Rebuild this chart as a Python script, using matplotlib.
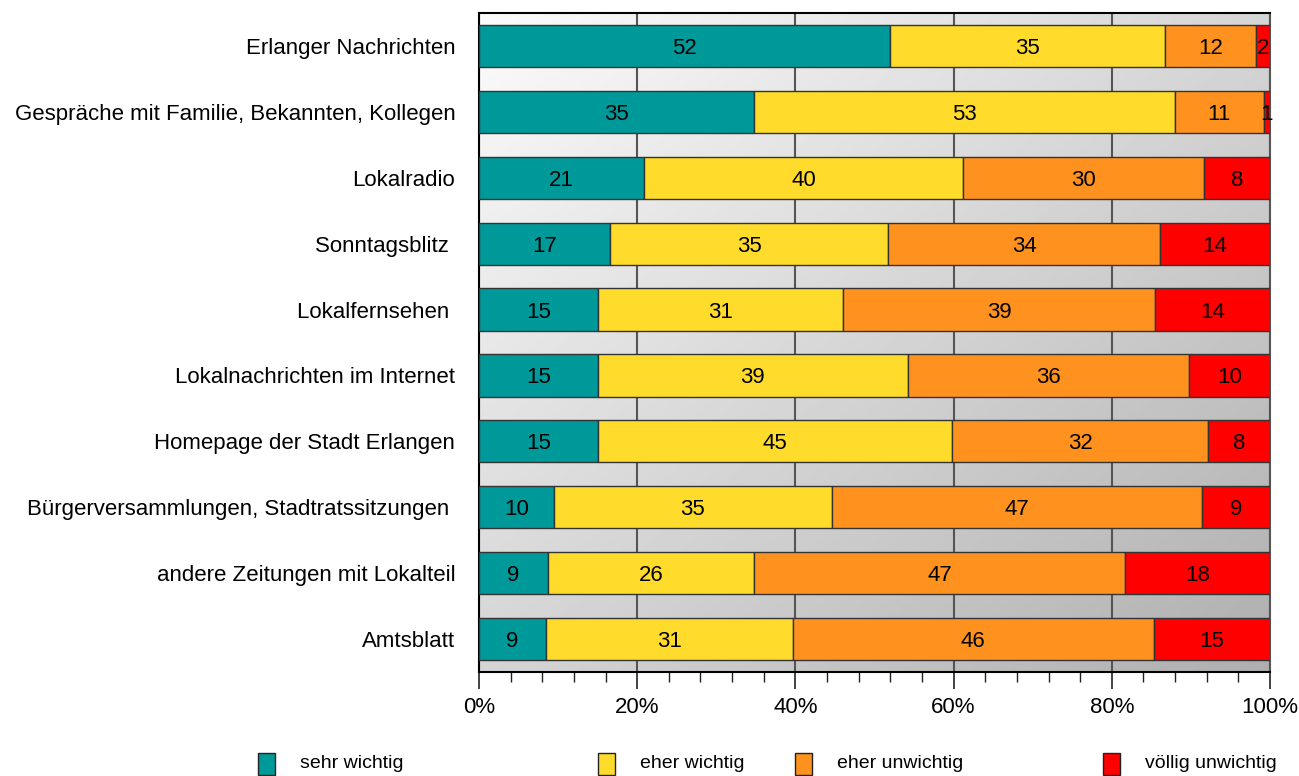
import matplotlib.pyplot as plt
import numpy as np
from matplotlib.patches import Rectangle
from matplotlib.ticker import MultipleLocator, PercentFormatter

plt.rcParams['font.family'] = ['Liberation Sans', 'DejaVu Sans']

sources = ["Erlanger Nachrichten",
           "Gespräche mit Familie, Bekannten, Kollegen",
           "Lokalradio",
           "Sonntagsblitz ",
           "Lokalfernsehen ",
           "Lokalnachrichten im Internet",
           "Homepage der Stadt Erlangen",
           "Bürgerversammlungen, Stadtratssitzungen ",
           "andere Zeitungen mit Lokalteil",
           "Amtsblatt"]

categories = ["sehr wichtig", "eher wichtig", "eher unwichtig", "völlig unwichtig"]
colors = ["#009999", "#ffdb2b", "#ff921e", "#ff0000"]

# bar shares (%)
sehr_wichtig = [52.0, 34.8, 20.9, 16.6, 15.0, 15.0, 15.0, 9.5, 8.7, 8.5]
eher_wichtig = [34.7, 53.2, 40.3, 35.1, 31.0, 39.2, 44.8, 35.1, 26.1, 31.2]
eher_unwichtig = [11.5, 11.2, 30.5, 34.4, 39.5, 35.6, 32.4, 46.8, 46.9, 45.6]
voellig_unwichtig = [1.8, 0.8, 8.3, 13.9, 14.5, 10.2, 7.8, 8.6, 18.3, 14.7]

# printed labels
lbl_sehr = [52, 35, 21, 17, 15, 15, 15, 10, 9, 9]
lbl_eher = [35, 53, 40, 35, 31, 39, 45, 35, 26, 31]
lbl_unw = [12, 11, 30, 34, 39, 36, 32, 47, 47, 46]
lbl_voellig = [2, 1, 8, 14, 14, 10, 8, 9, 18, 15]

series = [sehr_wichtig, eher_wichtig, eher_unwichtig, voellig_unwichtig]
labels = [lbl_sehr, lbl_eher, lbl_unw, lbl_voellig]

fig = plt.figure(figsize=(12.99, 7.76), dpi=100)
ax = fig.add_axes([0.3687, 0.134, 0.609, 0.8492])

# diagonal gray gradient background
gx, gy = np.meshgrid(np.linspace(0, 1, 300), np.linspace(0, 1, 300))
grad = 0.985 - 0.30 * (gx + gy) / 2
ax.imshow(grad, extent=(0, 100, 9.5, -0.5), cmap='gray', vmin=0, vmax=1,
          aspect='auto', zorder=0, interpolation='bilinear')

y = np.arange(len(sources))
left = np.zeros(len(sources))
for vals, lab, col in zip(series, labels, colors):
    vals = np.array(vals)
    ax.barh(y, vals, left=left, height=0.64, color=col, edgecolor='#333333',
            linewidth=1, zorder=3)
    for yi, (l, v, t) in enumerate(zip(left, vals, lab)):
        ax.text(l + v / 2, yi, str(t), ha='center', va='center_baseline',
                fontsize=16, color='black', zorder=4)
    left = left + vals

ax.set_xlim(0, 100)
ax.set_ylim(9.5, -0.5)
ax.set_yticks(y)
ax.set_yticklabels(sources, fontsize=16)
ax.tick_params(axis='y', length=0, pad=17)

ax.xaxis.set_major_locator(MultipleLocator(20))
ax.xaxis.set_minor_locator(MultipleLocator(4))
ax.xaxis.set_major_formatter(PercentFormatter(decimals=0))
ax.tick_params(axis='x', which='major', direction='out', length=12, width=1.2,
               labelsize=16, pad=6, color='#222222')
ax.tick_params(axis='x', which='minor', direction='out', length=7, width=1,
               color='#222222')
ax.grid(axis='x', which='major', color='#555555', linewidth=1.5, zorder=1)
ax.set_axisbelow(True)

for s in ['left', 'top', 'bottom']:
    ax.spines[s].set_color('black')
    ax.spines[s].set_linewidth(1.5)
ax.spines['right'].set_color('#555555')
ax.spines['right'].set_linewidth(1.5)

# legend drawn in figure pixels
W, H = 1299, 776
marker_x = [258, 598, 795, 1103]
for mx, col, cat in zip(marker_x, colors, categories):
    fig.patches.append(Rectangle((mx / W, (H - 775) / H), 17 / W, 22 / H,
                                 transform=fig.transFigure, facecolor=col,
                                 edgecolor='#222222', linewidth=1))
    fig.text((mx + 42) / W, (H - 764) / H, cat, fontsize=14, va='center',
             ha='left')

fig.savefig("out.png", dpi=100)
